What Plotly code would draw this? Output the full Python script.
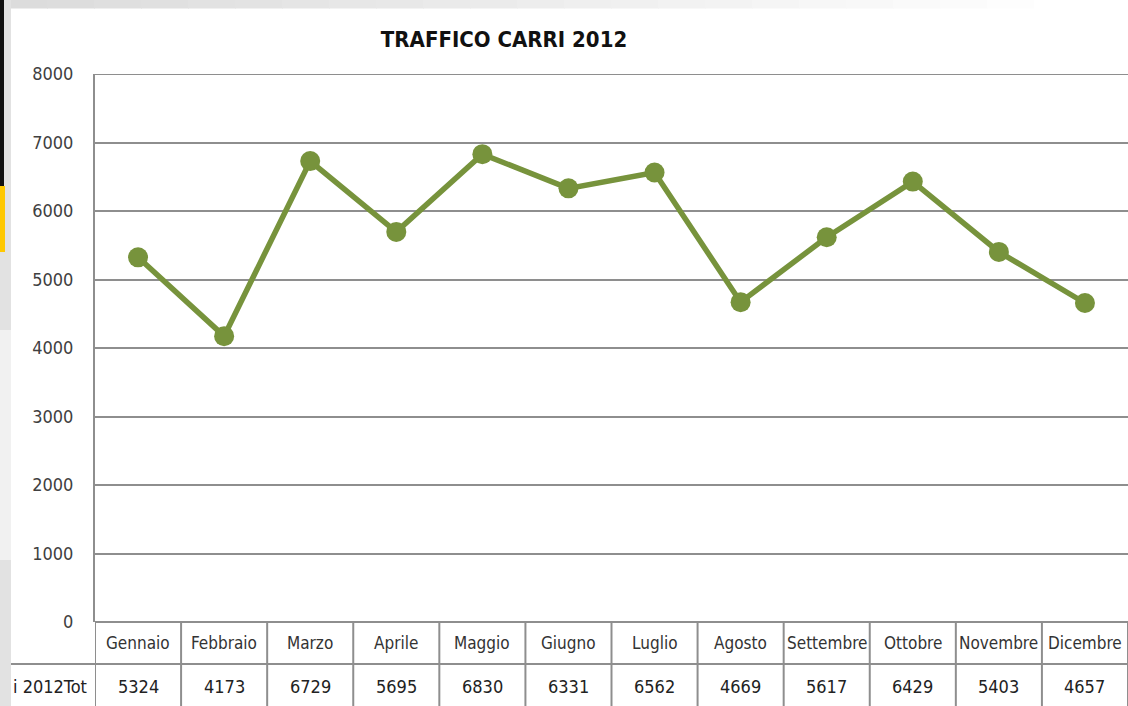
import plotly.graph_objects as go

months = ["Gennaio", "Febbraio", "Marzo", "Aprile", "Maggio", "Giugno",
          "Luglio", "Agosto", "Settembre", "Ottobre", "Novembre", "Dicembre"]
values = [5324, 4173, 6729, 5695, 6830, 6331, 6562, 4669, 5617, 6429, 5403, 4657]
yticks = [0, 1000, 2000, 3000, 4000, 5000, 6000, 7000, 8000]
title_text = "TRAFFICO CARRI 2012"
row_label = "i 2012Tot"

W, H = 1128, 706
L, R, T, B = 95, 0, 74, 84
PW, PH = W - L - R, H - T - B

def px(x):
    return (x - L) / PW

def py(y):
    return (H - B - y) / PH

FONT = "Liberation Sans Narrow, DejaVu Sans Condensed, Arial Narrow, sans-serif"
GREEN = "#77933C"
GRID = "#8e8e8e"

xs = list(range(len(months)))

fig = go.Figure()
fig.add_trace(go.Scatter(
    x=xs, y=values, mode="lines+markers",
    line=dict(color=GREEN, width=5.5),
    marker=dict(color=GREEN, size=20),
    showlegend=False, hoverinfo="skip"))

shapes = []
# top gradient band
n = 24
for i in range(n):
    x0 = i * W / n
    x1 = (i + 1) * W / n
    t = min(1.0, i / (n - 2))
    g = int(0xDC + (0xFF - 0xDC) * t)
    shapes.append(dict(type="rect", xref="paper", yref="paper",
                       x0=px(x0), x1=px(x1 + 1), y0=py(8.5), y1=py(0),
                       fillcolor=f"rgb({g},{g},{g})", line=dict(width=0), layer="below"))
# left strip
shapes.append(dict(type="rect", xref="paper", yref="paper", x0=px(0), x1=px(11),
                   y0=py(706), y1=py(0), fillcolor="#e2e2e2", line=dict(width=0), layer="below"))
shapes.append(dict(type="rect", xref="paper", yref="paper", x0=px(0), x1=px(11),
                   y0=py(560), y1=py(330), fillcolor="#f1f1f1", line=dict(width=0), layer="below"))
shapes.append(dict(type="rect", xref="paper", yref="paper", x0=px(0), x1=px(4),
                   y0=py(186), y1=py(0), fillcolor="#111111", line=dict(width=0), layer="below"))
shapes.append(dict(type="rect", xref="paper", yref="paper", x0=px(0), x1=px(5),
                   y0=py(252), y1=py(186), fillcolor="#FFC800", line=dict(width=0), layer="below"))
# top gridline at the axis maximum
shapes.append(dict(type="line", xref="paper", yref="y", x0=0, x1=1,
                   y0=yticks[-1], y1=yticks[-1], line=dict(color=GRID, width=2), layer="below"))
# table horizontal line
shapes.append(dict(type="line", xref="paper", yref="paper", x0=px(11), x1=1,
                   y0=py(664), y1=py(664), line=dict(color=GRID, width=2)))
# table vertical lines at category boundaries
for i in range(len(months) + 1):
    shapes.append(dict(type="line", xref="x", yref="paper", x0=i - 0.5, x1=i - 0.5,
                       y0=0, y1=py(706), line=dict(color=GRID, width=2)))

annotations = []
for i, m in enumerate(months):
    annotations.append(dict(x=i, y=py(643), xref="x", yref="paper", text=m,
                            xanchor="center", yanchor="middle",
                            showarrow=False, font=dict(family=FONT, size=17, color="#333333")))
for i, v in enumerate(values):
    annotations.append(dict(x=i, y=py(686), xref="x", yref="paper", text=str(v),
                            xanchor="center", yanchor="middle",
                            showarrow=False, font=dict(family=FONT, size=18, color="#222222")))
annotations.append(dict(x=px(89), y=py(686), xref="paper", yref="paper", text=row_label,
                        xanchor="right", yanchor="middle", showarrow=False,
                        font=dict(family=FONT, size=18, color="#222222")))

fig.update_layout(
    width=W, height=H,
    margin=dict(l=L, r=R, t=T, b=B),
    paper_bgcolor="white", plot_bgcolor="white",
    title=dict(text="<b>" + title_text + "</b>", x=504 / W, xanchor="center",
               y=1 - 39 / H, yanchor="middle",
               font=dict(family=FONT, size=22, color="#111111")),
    xaxis=dict(range=[-0.5, len(months) - 0.5], showticklabels=False,
               showgrid=False, zeroline=False, showline=False, fixedrange=True),
    yaxis=dict(range=[0, 8000], tickvals=yticks, showgrid=True, gridcolor=GRID,
               gridwidth=2, zeroline=True, zerolinecolor=GRID, zerolinewidth=2,
               showline=True, linecolor=GRID, linewidth=2, ticks="", ticklabelstandoff=16,
               tickfont=dict(family=FONT, size=18, color="#404040")),
    shapes=shapes, annotations=annotations,
)

fig.write_html("out.html", config={"displayModeBar": False},
               post_script="document.body.style.margin='0';")
